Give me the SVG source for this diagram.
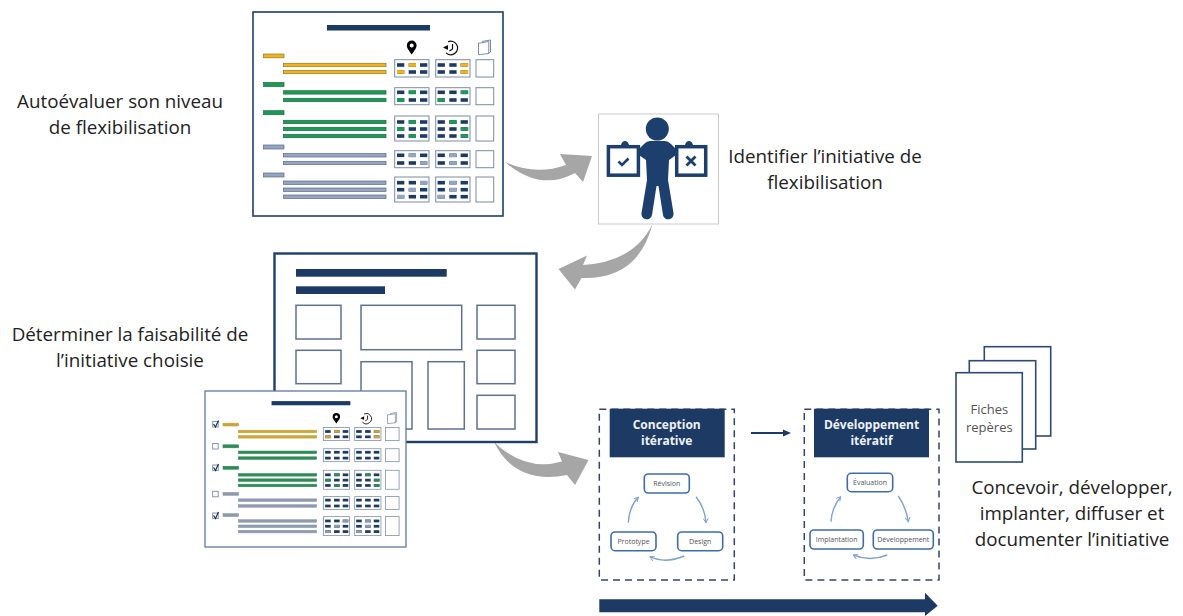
<svg xmlns="http://www.w3.org/2000/svg" xmlns:xlink="http://www.w3.org/1999/xlink" width="1183" height="616" viewBox="0 0 1183 616">
<style>
text{font-family:"Open Sans","Liberation Sans",sans-serif}
.cap{font-size:18.8px;fill:#222;text-anchor:middle}
.hd{font-size:12px;font-weight:700;fill:#eef2f7;text-anchor:middle}
.sm{font-size:7px;fill:#555;text-anchor:middle}
.pg{fill:#fff;stroke:#2c4a75;stroke-width:1.6}
.fr{fill:#fff;stroke:#1f3f6b;stroke-width:1.6}
.bx{fill:#fff;stroke:#5f7190;stroke-width:1.5}
.nv{fill:#1c3a64}
.gr{fill:#a6a6a6}
.ln{stroke-width:.7}
.yl{fill:var(--y);stroke:var(--ys)}
.gn{fill:var(--g);stroke:var(--gs)}
.sl{fill:var(--s);stroke:var(--ss)}
.c{width:7.3px;height:3.6px}
.cn{fill:#1c3a64}
.cy{fill:var(--y)}
.cg{fill:var(--g)}
.cs{fill:var(--s)}
.f{fill:#fff;stroke:#7b8ba5;stroke-width:1}
.dash{fill:none;stroke:#33456e;stroke-width:1.5;stroke-dasharray:7 5}
.rn{fill:#fff;stroke:#3f6ca8;stroke-width:1.6}
.cyc{fill:none;stroke:#7ea3cf;stroke-width:1.4;marker-end:url(#open)}
.soft{filter:url(#soft)}
.p1{--y:#f0b414;--ys:#8a7a3a;--g:#1f9a55;--gs:#1d6b45;--s:#95a5c0;--ss:#5a6a85}
.p2{--y:#c9a53a;--ys:#c9a53a;--g:#2e8b57;--gs:#2e8b57;--s:#8d99ae;--ss:#8d99ae}
</style>
<defs>
<filter id="soft" x="-5%" y="-5%" width="110%" height="110%"><feGaussianBlur stdDeviation=".4"/></filter>
<marker id="open" viewBox="0 0 10 10" refX="8" refY="5" markerWidth="6" markerHeight="6" markerUnits="userSpaceOnUse" orient="auto"><path d="M1 1L8 5L1 9" fill="none" stroke="#7ea3cf" stroke-width="1.6"/></marker>
<g id="row"><rect class="c cn" x="0" y="0"/><rect class="c cn" x="11.7" y="0"/><rect class="c cn" x="23" y="0"/></g>
<g id="sheet">
<rect class="nv" x="327" y="25" width="103" height="5.5"/>
<g class="ln">
<rect class="yl" x="263.5" y="54" width="20.500" height="3.800"/>
<rect class="yl" x="283.500" y="63.300" width="102.500" height="3.400"/>
<rect class="yl" x="283.500" y="70.300" width="102.500" height="3.400"/>
<rect class="gn" x="263.500" y="82.500" width="20.500" height="4"/>
<rect class="gn" x="283.500" y="90.700" width="102.500" height="3.400"/>
<rect class="gn" x="283.500" y="98.300" width="102.500" height="3.400"/>
<rect class="gn" x="263.500" y="110.700" width="20.500" height="4"/>
<rect class="gn" x="283.500" y="120.300" width="102.500" height="3.400"/>
<rect class="gn" x="283.500" y="127.300" width="102.500" height="3.400"/>
<rect class="gn" x="283.500" y="134.300" width="102.500" height="3.400"/>
<rect class="sl" x="263.500" y="145" width="20.500" height="4"/>
<rect class="sl" x="283.500" y="153.600" width="102.500" height="3.400"/>
<rect class="sl" x="283.500" y="161.300" width="102.500" height="3.400"/>
<rect class="sl" x="263.500" y="173" width="20.500" height="4"/>
<rect class="sl" x="283.500" y="181" width="102.500" height="3.400"/>
<rect class="sl" x="283.500" y="188" width="102.500" height="3.400"/>
<rect class="sl" x="283.500" y="195" width="102.500" height="3.400"/>
</g>
<rect class="f" x="394.700" y="59.700" width="34.300" height="17.300"/><rect class="f" x="435.700" y="59.700" width="34.300" height="17.300"/><rect class="f" x="476" y="59.700" width="17.700" height="17.300"/>
<rect class="f" x="394.700" y="87.700" width="34.300" height="17"/><rect class="f" x="435.700" y="87.700" width="34.300" height="17"/><rect class="f" x="476" y="87.700" width="17.700" height="17"/>
<rect class="f" x="394.700" y="116" width="34.300" height="25"/><rect class="f" x="435.700" y="116" width="34.300" height="25"/><rect class="f" x="476" y="116" width="17.700" height="25"/>
<rect class="f" x="394.700" y="150.700" width="34.300" height="17"/><rect class="f" x="435.700" y="150.700" width="34.300" height="17"/><rect class="f" x="476" y="150.700" width="17.700" height="17"/>
<rect class="f" x="394.700" y="177" width="34.300" height="25"/><rect class="f" x="435.700" y="177" width="34.300" height="25"/><rect class="f" x="476" y="177" width="17.700" height="25"/>
<use xlink:href="#row" x="397" y="63.200"/><use xlink:href="#row" x="397" y="70.200"/><use xlink:href="#row" x="437.600" y="63.200"/><use xlink:href="#row" x="437.600" y="70.200"/>
<use xlink:href="#row" x="397" y="90.500"/><use xlink:href="#row" x="397" y="98.200"/><use xlink:href="#row" x="437.600" y="90.500"/><use xlink:href="#row" x="437.600" y="98.200"/>
<use xlink:href="#row" x="397" y="120.200"/><use xlink:href="#row" x="397" y="127.200"/><use xlink:href="#row" x="397" y="134.200"/><use xlink:href="#row" x="437.600" y="120.200"/><use xlink:href="#row" x="437.600" y="127.200"/><use xlink:href="#row" x="437.600" y="134.200"/>
<use xlink:href="#row" x="397" y="153.500"/><use xlink:href="#row" x="397" y="161.200"/><use xlink:href="#row" x="437.600" y="153.500"/><use xlink:href="#row" x="437.600" y="161.200"/>
<use xlink:href="#row" x="397" y="180.900"/><use xlink:href="#row" x="397" y="187.900"/><use xlink:href="#row" x="397" y="194.900"/><use xlink:href="#row" x="437.600" y="180.900"/><use xlink:href="#row" x="437.600" y="187.900"/><use xlink:href="#row" x="437.600" y="194.900"/>
<rect class="c cy" x="408.700" y="63.200"/><rect class="c cy" x="397" y="70.200"/><rect class="c cy" x="461" y="63.200"/><rect class="c cy" x="461" y="70.200"/>
<rect class="c cg" x="408.700" y="120.200"/><rect class="c cg" x="397" y="127.200"/><rect class="c cg" x="408.700" y="134.200"/><rect class="c cg" x="449.300" y="120.200"/><rect class="c cg" x="461" y="127.200"/><rect class="c cg" x="461" y="134.200"/>
<rect class="c cs" x="420" y="180.900"/><rect class="c cs" x="408.700" y="187.900"/><rect class="c cs" x="397" y="194.900"/><rect class="c cs" x="449.300" y="180.900"/><rect class="c cs" x="449.300" y="187.900"/><rect class="c cs" x="437.600" y="194.900"/>
<path d="M411.700 54.500C408.500 50 406.800 47.800 406.800 45.500A4.900 4.900 0 0 1 416.600 45.500C416.600 47.800 414.900 50 411.700 54.500ZM411.700 43.500A2 2 0 1 0 411.700 47.500A2 2 0 1 0 411.700 43.500Z" fill="#000" fill-rule="evenodd"/>
<path d="M448 41.800A6.800 6.800 0 1 1 446 52.800M452.500 44V49L449.500 51" fill="none" stroke="#111" stroke-width="1.200"/>
<path d="M443 47.500L448 45V50Z" fill="#111"/>
<path d="M482 41.500L490.500 40V52L488 53.500M480.500 43L488.800 41.500V53.500L480.500 54.500L478.500 54.500V43Z" fill="#fff" stroke="#7b8ba5" stroke-width="1"/>
</g>
<g id="over"><rect class="c cg" x="408.700" y="90.500"/><rect class="c cg" x="397" y="98.200"/><rect class="c cg" x="461" y="90.500"/><rect class="c cg" x="437.600" y="98.200"/><rect class="c cs" x="408.700" y="153.500"/><rect class="c cs" x="420" y="161.200"/><rect class="c cs" x="449.300" y="153.500"/><rect class="c cs" x="449.300" y="161.200"/></g>
</defs>
<rect width="1183" height="616" fill="#fff"/>

<g id="connectors">
<path class="gr" d="M505 162Q535 176 566 165L560 154L592 156L583 182L575 173Q540 192 505 162Z"/>
<path class="gr" d="M652.500 224Q634 262 583 265L587 255.500L558.500 269L575 289.500L581.500 278Q638 280 652.500 224Z"/>
<path class="gr" d="M494 442Q525 472 562 461.500L558 452L588.500 460L575 485L567 475Q515 485 494 442Z"/>
<path d="M751 433H784" stroke="#1c3a64" stroke-width="2" fill="none"/><path class="nv" d="M783 429.500L791 433L783 436.500Z"/>
<path class="nv" d="M599.300 599.300H925V592.700L937.700 605.700L925 616V612.300H599.300Z"/>
<path class="cyc" d="M696 496.700Q705 508 706 522.700"/>
<path class="cyc" d="M684.300 556Q665 564 650 556.700"/>
<path class="cyc" d="M628.300 522.700Q629 507 638.300 497.300"/>
<path class="cyc" d="M898.300 496Q906 507 908.300 521.700"/>
<path class="cyc" d="M887.300 555Q870 562 853.300 555"/>
<path class="cyc" d="M831 521.700Q832 507 840.700 496.700"/>
</g>

<g id="autoevaluation" class="p1">
<rect class="fr" x="253" y="12" width="250" height="204"/>
<g class="soft"><use xlink:href="#sheet"/><use xlink:href="#over"/></g>
<text class="cap" x="120" y="108">Autoévaluer son niveau</text>
<text class="cap" x="120" y="134">de flexibilisation</text>
</g>

<g id="identifier">
<rect x="598.500" y="114" width="120" height="110" fill="#fff" stroke="#ccc"/>
<circle cx="657.300" cy="129" r="11.500" fill="#1c3f6e"/>
<path fill="#1c3f6e" d="M650 141L665 141Q668 141 671 144L676 149L676 155L669 160L668 180L673.500 213A5.200 5.200 0 0 1 663 215L658.500 186L656.500 186L652 215A5.200 5.200 0 0 1 641.500 213L647 180L646 160L639 155L639 149L644 144Q647 141 650 141Z"/>
<path fill="#1c3f6e" d="M621 145Q622 141 625 141Q628 141 629 145ZM685 145Q686 141 689 141Q692 141 693 145Z"/>
<rect x="608.400" y="146.700" width="30" height="28.500" fill="#fff" stroke="#1c3f6e" stroke-width="3.500"/>
<rect x="676.700" y="146.700" width="29" height="28.500" fill="#fff" stroke="#1c3f6e" stroke-width="3.500"/>
<path d="M618.500 161.500L622 165L628.500 158.500" fill="none" stroke="#1c3f6e" stroke-width="2.600"/>
<path d="M686.500 156.500L695.500 165.500M695.500 156.500L686.500 165.500" fill="none" stroke="#1c3f6e" stroke-width="2.800"/>
<text class="cap" x="825" y="163">Identifier l’initiative de</text>
<text class="cap" x="825" y="189">flexibilisation</text>
</g>

<g id="faisabilite">
<rect x="274.500" y="253.500" width="262" height="188.500" fill="#fff" stroke="#1f3f6b" stroke-width="2.400"/>
<rect class="nv" x="296" y="269" width="150.700" height="7.700"/>
<rect class="nv" x="296" y="286.300" width="89" height="7.700"/>
<rect class="bx" x="296" y="305.300" width="45" height="33.700"/>
<rect class="bx" x="296" y="350.300" width="45" height="33.400"/>
<rect class="bx" x="361" y="305.300" width="100.700" height="44.400"/>
<rect class="bx" x="361" y="361.700" width="51" height="67.300"/>
<rect class="bx" x="428" y="361.700" width="36.300" height="67.300"/>
<rect class="bx" x="477" y="305.300" width="38" height="33.700"/>
<rect class="bx" x="477" y="350.300" width="38" height="33.400"/>
<rect class="bx" x="477" y="395.300" width="38" height="33.700"/>
<text class="cap" x="130" y="341">Déterminer la faisabilité de</text>
<text class="cap" x="130" y="367">l’initiative choisie</text>
</g>

<g id="selection" class="p2">
<rect x="205" y="391" width="201" height="156" fill="#fff" stroke="#5f7a9e" stroke-width="1.300"/>
<g class="soft"><use xlink:href="#sheet" transform="translate(21.400 382.100) scale(.765 .76)"/>
<g fill="#fff" stroke="#7b8ba5" stroke-width=".9">
<rect x="212.700" y="421.500" width="5.500" height="5.500"/><rect x="212.700" y="443.500" width="5.500" height="5.500"/><rect x="212.700" y="465" width="5.500" height="5.500"/><rect x="212.700" y="491.300" width="5.500" height="5.500"/><rect x="212.700" y="513" width="5.500" height="5.500"/>
</g>
<path d="M213.500 424L215.500 427L218.500 420.500M213.500 467.500L215.500 470.500L218.500 464M213.500 515.500L215.500 518.500L218.500 512" fill="none" stroke="#1c3a64" stroke-width="1.300"/></g>
</g>

<g id="conception">
<rect class="dash" x="599.300" y="409.300" width="135" height="170.700"/>
<rect class="nv" x="609.700" y="408.700" width="115" height="48.600"/>
<text class="hd" x="666.700" y="428.500">Conception</text>
<text class="hd" x="666.700" y="445">itérative</text>
<rect class="rn" x="644.300" y="474" width="45" height="19" rx="4"/><text class="sm" x="666.800" y="485.700">Révision</text>
<rect class="rn" x="611" y="532" width="45" height="18.700" rx="4"/><text class="sm" x="633.500" y="543.500">Prototype</text>
<rect class="rn" x="677.700" y="532" width="45" height="18.700" rx="4"/><text class="sm" x="700.200" y="543.500">Design</text>
</g>

<g id="developpement">
<rect class="dash" x="804.300" y="409.300" width="134.700" height="170.700"/>
<rect class="nv" x="814" y="408.700" width="115" height="48.600"/>
<text class="hd" x="871.500" y="428.500">Développement</text>
<text class="hd" x="871.500" y="445">itératif</text>
<rect class="rn" x="847.300" y="473.300" width="45.400" height="18.400" rx="4"/><text class="sm" x="870" y="485">Évaluation</text>
<rect class="rn" x="810" y="530" width="53.300" height="19" rx="4"/><text class="sm" x="836.700" y="541.700">Implantation</text>
<rect class="rn" x="873.300" y="530" width="60" height="19" rx="4"/><text class="sm" x="903.300" y="541.700">Développement</text>
</g>

<g id="fiches">
<rect class="pg" x="984.300" y="346.700" width="66.400" height="89.300"/>
<rect class="pg" x="969.300" y="360.700" width="66.400" height="88.300"/>
<rect class="pg" x="956" y="372.700" width="66.300" height="89.300"/>
<text x="989.300" y="414" font-size="13" fill="#555" text-anchor="middle">Fiches</text>
<text x="989.300" y="432" font-size="13" fill="#555" text-anchor="middle">repères</text>
<text class="cap" x="1072" y="494">Concevoir, développer,</text>
<text class="cap" x="1072" y="520">implanter, diffuser et</text>
<text class="cap" x="1072" y="546">documenter l’initiative</text>
</g>
</svg>
